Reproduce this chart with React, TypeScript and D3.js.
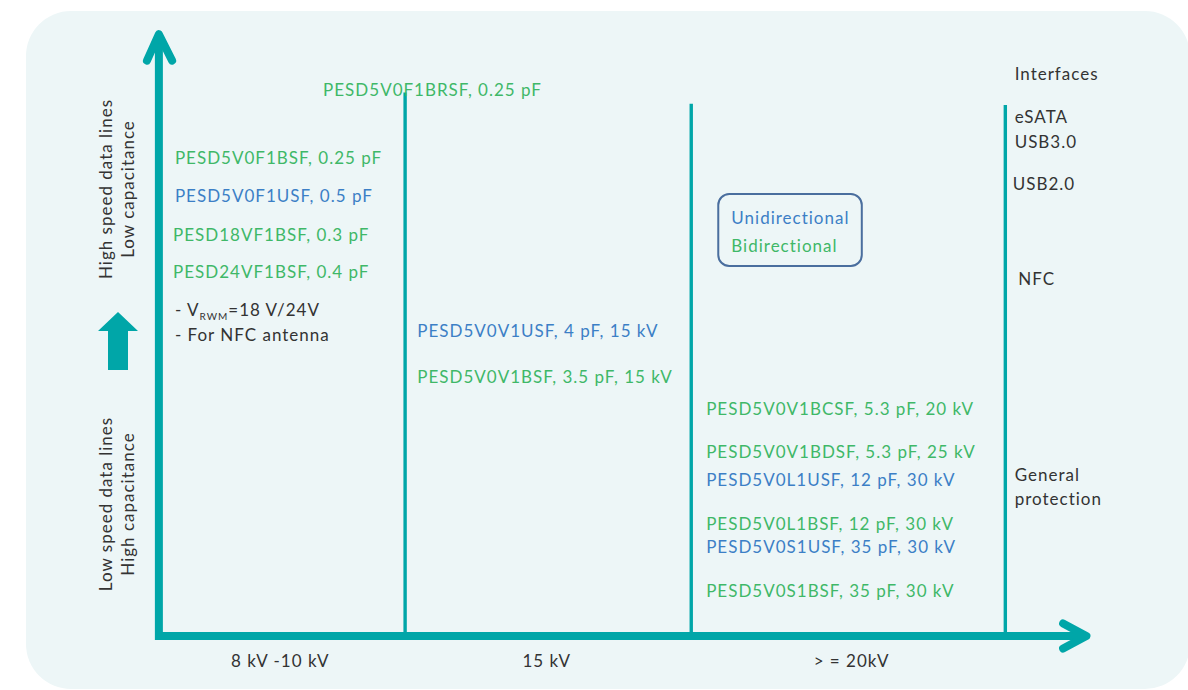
import React from 'react'
import * as d3 from 'd3'

// column dividers on the x scale (0..100 across the plot)
const dividerX = [26.3, 57.0, 90.7]
const dividerTop = [90.6, 88.7, 88.5]

const columnLabels = ['8 kV -10 kV', '15 kV', '> = 20kV']
const columnLabelX = [12.9, 41.5, 74.2]

// parts: text, column x, level (y scale 0..100), kind
type Part = { text: string, x: number, level: number, kind: 'uni' | 'bi' }

const parts: Part[] = [
    { text: 'PESD5V0F1BRSF, 0.25 pF', x: 17.5, level: 91.0, kind: 'bi' },
    { text: 'PESD5V0F1BSF, 0.25 pF', x: 1.6, level: 79.7, kind: 'bi' },
    { text: 'PESD5V0F1USF, 0.5 pF', x: 1.6, level: 73.3, kind: 'uni' },
    { text: 'PESD18VF1BSF, 0.3 pF', x: 1.4, level: 66.8, kind: 'bi' },
    { text: 'PESD24VF1BSF, 0.4 pF', x: 1.4, level: 60.7, kind: 'bi' },
    { text: 'PESD5V0V1USF, 4 pF, 15 kV', x: 27.6, level: 50.8, kind: 'uni' },
    { text: 'PESD5V0V1BSF, 3.5 pF, 15 kV', x: 27.6, level: 43.2, kind: 'bi' },
    { text: 'PESD5V0V1BCSF, 5.3 pF, 20 kV', x: 58.6, level: 37.8, kind: 'bi' },
    { text: 'PESD5V0V1BDSF, 5.3 pF, 25 kV', x: 58.6, level: 30.7, kind: 'bi' },
    { text: 'PESD5V0L1USF, 12 pF, 30 kV', x: 58.6, level: 26.0, kind: 'uni' },
    { text: 'PESD5V0L1BSF, 12 pF, 30 kV', x: 58.6, level: 18.7, kind: 'bi' },
    { text: 'PESD5V0S1USF, 35 pF, 30 kV', x: 58.6, level: 14.8, kind: 'uni' },
    { text: 'PESD5V0S1BSF, 35 pF, 30 kV', x: 58.6, level: 7.5, kind: 'bi' },
]

const interfaces = [
    { text: 'Interfaces', x: 91.7, level: 93.7 },
    { text: 'eSATA', x: 91.7, level: 86.5 },
    { text: 'USB3.0', x: 91.7, level: 82.3 },
    { text: 'USB2.0', x: 91.5, level: 75.3 },
    { text: 'NFC', x: 92.1, level: 59.5 },
    { text: 'General', x: 91.7, level: 26.8 },
    { text: 'protection', x: 91.7, level: 22.8 },
]

const noteLevels = [54.3, 50.2]

const yLabelsTop = ['High speed data lines', 'Low capacitance']
const yLabelsBottom = ['Low speed data lines', 'High capacitance']

const colors = {
    panel: '#edf6f7',
    axis: '#00a6a8',
    uni: '#3c7fc6',
    bi: '#3fb868',
    ink: '#333333',
    legend: '#4a6e9e',
}

const font = 'Lato, "Open Sans", sans-serif'
const fs = 17
const ls = 1.0

export default function App () {
    const width = 1188
    const height = 690
    const left = 160
    const bottom = 636
    const x = d3.scaleLinear().domain([0, 100]).range([left, 1092])
    const y = d3.scaleLinear().domain([0, 100]).range([bottom, 36])

    const line = d3.line()
    const upArrow = line([[x(-0.12), y(99)], [x(-0.12), bottom + 4]]) + 'M' + (left - 4) + ',' + bottom + 'H' + x(98.8)
    const upHead = line([[x(-1.4), y(95.9)], [x(-0.12), y(100.3)], [x(1.3), y(95.9)]])
    const rightHead = line([[x(96.9), y(2.1)], [x(99.4), 0 + bottom], [x(96.9), y(-2.1)]])

    // thick block arrow on the left margin
    const bx = 118
    const block = line([[bx, 312], [bx + 20, 331], [bx + 10, 331], [bx + 10, 370], [bx - 10, 370], [bx - 10, 331], [bx - 20, 331]]) + 'Z'

    return (
        <svg width={width} height={height} style={{ position: 'absolute', left: 0, top: 0 }} fontFamily={font} letterSpacing={ls}>
            <rect x={0} y={0} width={width} height={height} fill='#ffffff' />
            <rect x={26} y={11} width={1164} height={678} rx={45} fill={colors.panel} />

            {dividerX.map((d, i) => (
                <line key={i} x1={x(d)} x2={x(d)} y1={y(dividerTop[i])} y2={bottom} stroke={colors.axis} strokeWidth={3.4} />
            ))}

            <path d={upArrow} fill='none' stroke={colors.axis} strokeWidth={8} />
            <path d={upHead} fill='none' stroke={colors.axis} strokeWidth={8} strokeLinecap='round' strokeLinejoin='round' />
            <path d={rightHead} fill='none' stroke={colors.axis} strokeWidth={8} strokeLinecap='round' strokeLinejoin='round' />
            <path d={block} fill={colors.axis} />

            {parts.map((p, i) => (
                <text key={i} x={x(p.x)} y={y(p.level)} dy='0.36em' fontSize={fs} fill={colors[p.kind]}>{p.text}</text>
            ))}

            <text x={x(1.6)} y={y(noteLevels[0])} dy='0.36em' fontSize={fs} fill={colors.ink}>
                - V<tspan fontSize={10} dy={4}>RWM</tspan><tspan dy={-4}>=18 V/24V</tspan>
            </text>
            <text x={x(1.6)} y={y(noteLevels[1])} dy='0.36em' fontSize={fs} fill={colors.ink}>- For NFC antenna</text>

            {interfaces.map((d, i) => (
                <text key={i} x={x(d.x)} y={y(d.level)} dy='0.36em' fontSize={fs} fill={colors.ink}>{d.text}</text>
            ))}

            {columnLabels.map((d, i) => (
                <text key={i} x={x(columnLabelX[i])} y={661} dy='0.36em' fontSize={fs} textAnchor='middle' fill={colors.ink}>{d}</text>
            ))}

            {yLabelsTop.map((d, i) => (
                <text key={i} transform={`translate(${112 + i * 22}, 189) rotate(-90)`} fontSize={fs} textAnchor='middle' fill={colors.ink}>{d}</text>
            ))}
            {yLabelsBottom.map((d, i) => (
                <text key={i} transform={`translate(${112 + i * 22}, 504) rotate(-90)`} fontSize={fs} textAnchor='middle' fill={colors.ink}>{d}</text>
            ))}

            <g>
                <rect x={x(59.9)} y={194} width={x(75.3) - x(59.9)} height={72} rx={11} fill='none' stroke={colors.legend} strokeWidth={2} />
                <text x={x(61.3)} y={218} dy='0.36em' fontSize={fs} fill={colors.uni}>Unidirectional</text>
                <text x={x(61.3)} y={246} dy='0.36em' fontSize={fs} fill={colors.bi}>Bidirectional</text>
            </g>
        </svg>
    )
}
